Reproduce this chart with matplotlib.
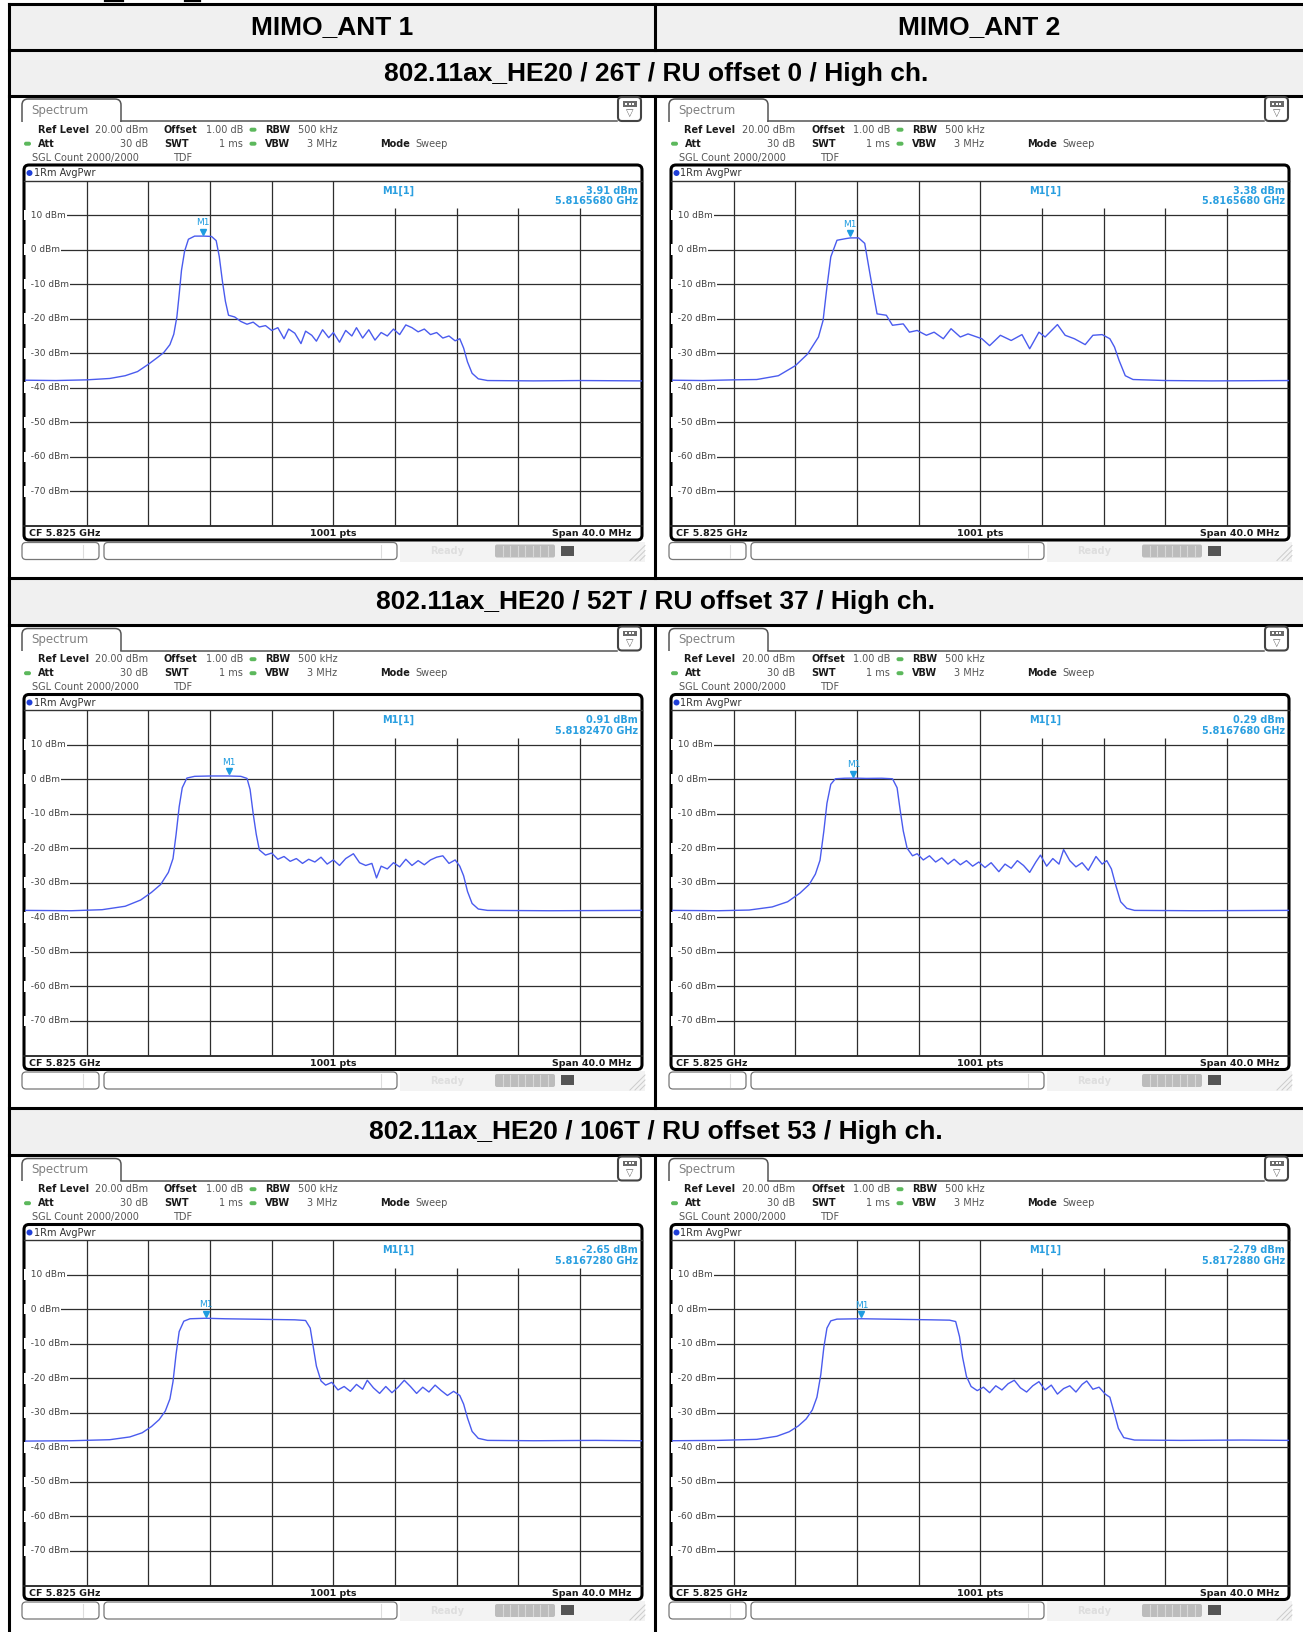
import matplotlib.pyplot as plt
from matplotlib.patches import FancyBboxPatch, Rectangle, Circle

W, H = 1303, 1632

col_titles = ["MIMO_ANT 1", "MIMO_ANT 2"]
row_titles = ["802.11ax_HE20 / 26T / RU offset 0 / High ch.",
              "802.11ax_HE20 / 52T / RU offset 37 / High ch.",
              "802.11ax_HE20 / 106T / RU offset 53 / High ch."]

# traces: frequency (MHz) and level (dBm)
a1_26t_f = [5805, 5807, 5809, 5810.5, 5811.5, 5812.3, 5813.0, 5813.6, 5814.0, 5814.4, 5814.65, 5814.85,
            5815.0, 5815.15, 5815.35, 5815.6, 5816.0, 5816.6, 5817.1, 5817.4, 5817.6, 5817.8, 5818.0,
            5818.2, 5818.6, 5819.0, 5819.4, 5819.8, 5820.2, 5820.6, 5821.0, 5821.4, 5821.8, 5822.1,
            5822.5, 5822.9, 5823.2, 5823.6, 5823.9, 5824.3, 5824.7, 5825.0, 5825.4, 5825.8, 5826.2,
            5826.5, 5826.9, 5827.3, 5827.7, 5828.1, 5828.5, 5828.9, 5829.3, 5829.7, 5830.1, 5830.5,
            5830.9, 5831.3, 5831.7, 5832.1, 5832.5, 5832.9, 5833.2, 5833.45, 5833.7, 5834.0, 5834.4,
            5835, 5838, 5841, 5845]
a1_26t_db = [-37.8, -37.9, -37.7, -37.3, -36.5, -35.3, -33.2, -31.2, -29.8, -27.5, -24.5, -19.5,
             -13.0, -6.0, -0.5, 3.0, 3.9, 3.91, 3.8, 2.6, -2.0, -9.0, -15.0,
             -19.0, -19.5, -20.8, -21.6, -21.0, -22.4, -22.0, -23.4, -22.6, -25.8, -23.0,
             -24.2, -27.2, -23.6, -24.8, -26.5, -23.2, -25.5, -24.0, -26.8, -23.4, -25.0,
             -22.6, -25.6, -23.2, -26.2, -24.0, -25.0, -23.0, -24.6, -21.8, -22.6, -23.8,
             -23.0, -24.6, -24.0, -25.6, -25.0, -26.4, -25.8, -28.5, -32.5, -35.8, -37.4,
             -37.9, -38.0, -37.9, -38.0]

a2_26t_f = [5805, 5807, 5809, 5810.5, 5811.9, 5813.0, 5813.8, 5814.5, 5814.8, 5815.05, 5815.3, 5815.7,
            5816.3, 5816.57, 5817.1, 5817.5, 5817.8, 5818.1, 5818.3, 5818.9, 5819.3, 5820.0, 5820.4,
            5820.9, 5821.5, 5822.0, 5822.6, 5823.1, 5823.7, 5824.2, 5825.1, 5825.6, 5826.3, 5827.0,
            5827.7, 5828.2, 5828.8, 5829.2, 5830.0, 5830.5, 5831.1, 5831.8, 5832.3, 5832.9, 5833.4,
            5833.7, 5834.0, 5834.4, 5834.9, 5837, 5840, 5845]
a2_26t_db = [-37.8, -37.9, -37.7, -37.6, -36.5, -33.6, -30.2, -25.3, -20.5, -10.8, -2.1, 2.7,
             3.2, 3.38, 3.4, 1.8, -6.0, -13.7, -18.6, -19.0, -21.9, -21.5, -23.9,
             -23.4, -24.8, -23.9, -25.8, -22.9, -25.3, -24.4, -25.8, -27.8, -24.8, -26.3,
             -24.6, -28.7, -23.9, -25.3, -21.7, -24.8, -25.8, -27.5, -24.8, -24.6, -25.8,
             -28.2, -32.1, -36.5, -37.6, -37.9, -38.0, -37.9]

a1_52t_f = [5805, 5808, 5810, 5811.5, 5812.5, 5813.2, 5813.8, 5814.3, 5814.6, 5814.8, 5815.0, 5815.2,
            5815.5, 5816.0, 5817.0, 5818.2, 5819.0, 5819.4, 5819.6, 5819.8, 5820.0, 5820.2, 5820.6,
            5821.0, 5821.4, 5821.8, 5822.2, 5822.6, 5823.0, 5823.4, 5823.8, 5824.2, 5824.6, 5825.0,
            5825.4, 5825.8, 5826.3, 5826.7, 5827.1, 5827.5, 5827.8, 5828.1, 5828.5, 5828.9, 5829.3,
            5829.7, 5830.1, 5830.5, 5830.9, 5831.3, 5831.7, 5832.1, 5832.5, 5832.9, 5833.2, 5833.45,
            5833.7, 5834.0, 5834.4, 5835, 5839, 5845]
a1_52t_db = [-38.0, -38.1, -37.8, -36.8, -35.0, -32.8, -30.5, -27.0, -23.0, -16.0, -8.0, -2.5,
             0.3, 0.8, 0.9, 0.91, 0.8, 0.2, -3.0, -10.0, -16.0, -20.5, -22.0,
             -21.4, -23.2, -22.4, -23.8, -23.0, -24.4, -23.2, -24.0, -22.6, -24.6, -23.4,
             -25.0, -23.0, -21.6, -24.2, -25.0, -24.4, -28.6, -25.2, -26.0, -24.2, -25.4,
             -23.2, -25.0, -23.6, -24.8, -23.4, -22.6, -22.2, -24.4, -23.4, -25.2, -28.0,
             -32.5, -36.0, -37.6, -38.0, -38.1, -38.0]

a2_52t_f = [5805, 5808, 5810, 5811.5, 5812.5, 5813.3, 5813.9, 5814.3, 5814.6, 5814.85, 5815.05, 5815.3,
            5815.6, 5816.2, 5816.8, 5817.6, 5818.6, 5819.3, 5819.6, 5819.8, 5820.0, 5820.25, 5820.6,
            5820.9, 5821.3, 5821.7, 5822.1, 5822.5, 5822.9, 5823.3, 5823.7, 5824.1, 5824.5, 5824.9,
            5825.3, 5825.7, 5826.2, 5826.6, 5827.0, 5827.4, 5827.8, 5828.2, 5828.6, 5828.9, 5829.3,
            5829.7, 5830.1, 5830.4, 5830.8, 5831.2, 5831.6, 5832.0, 5832.5, 5832.9, 5833.2, 5833.5,
            5833.8, 5834.1, 5834.5, 5835, 5839, 5845]
a2_52t_db = [-38.0, -38.1, -37.9, -37.0, -35.5, -33.0, -30.5, -27.5, -23.5, -15.0, -7.0, -1.5,
             0.1, 0.25, 0.29, 0.2, 0.25, 0.1, -2.5, -9.0, -15.0, -20.0, -22.2,
             -21.6, -23.4, -22.2, -24.0, -22.8, -24.6, -23.2, -24.8, -23.6, -25.2, -24.0,
             -25.6, -24.2, -26.8, -24.6, -25.8, -23.6, -25.0, -27.0, -24.0, -22.0, -25.2,
             -23.0, -24.6, -20.4, -23.6, -25.4, -24.2, -26.4, -22.4, -24.6, -23.6, -26.0,
             -31.0, -35.5, -37.4, -38.0, -38.1, -38.0]

a1_106t_f = [5805, 5808, 5810.5, 5811.8, 5812.6, 5813.2, 5813.7, 5814.1, 5814.4, 5814.6, 5814.8, 5815.0,
             5815.3, 5815.7, 5816.7, 5818, 5819.5, 5821, 5822.5, 5823.2, 5823.5, 5823.7, 5823.9,
             5824.2, 5824.5, 5824.9, 5825.3, 5825.7, 5826.1, 5826.5, 5826.9, 5827.2, 5827.6, 5828.0,
             5828.4, 5828.8, 5829.2, 5829.6, 5830.0, 5830.4, 5830.8, 5831.2, 5831.6, 5832.0, 5832.4,
             5832.8, 5833.2, 5833.45, 5833.7, 5834.0, 5834.4, 5835, 5838, 5842, 5845]
a1_106t_db = [-38.2, -38.1, -37.8, -37.0, -35.8, -34.0, -32.0, -29.5, -26.0, -21.0, -13.0, -6.5,
              -3.5, -2.8, -2.65, -2.8, -2.9, -3.0, -3.1, -3.3, -5.5, -11.0, -16.5,
              -20.8, -22.0, -21.2, -23.4, -22.4, -23.8, -21.8, -23.2, -20.6, -22.8, -24.4,
              -22.4, -24.2, -22.6, -20.6, -22.4, -24.4, -22.6, -24.0, -22.0, -23.6, -25.0,
              -23.8, -25.0, -27.5, -31.5, -35.4, -37.4, -38.0, -38.1, -38.0, -38.1]

a2_106t_f = [5805, 5808, 5810.5, 5811.8, 5812.6, 5813.2, 5813.7, 5814.1, 5814.4, 5814.65, 5814.85, 5815.05,
             5815.3, 5815.7, 5817.3, 5818.8, 5820.3, 5821.8, 5823.0, 5823.4, 5823.65, 5823.85, 5824.1,
             5824.4, 5824.8, 5825.2, 5825.6, 5826.0, 5826.4, 5826.8, 5827.2, 5827.6, 5828.0, 5828.4,
             5828.8, 5829.2, 5829.6, 5830.0, 5830.4, 5830.8, 5831.2, 5831.6, 5831.9, 5832.3, 5832.7,
             5833.1, 5833.4, 5833.65, 5833.95, 5834.3, 5835, 5838, 5842, 5845]
a2_106t_db = [-38.1, -38.0, -37.7, -36.8, -35.5, -33.8, -31.8, -29.2, -25.5, -19.0, -11.0, -5.5,
              -3.4, -2.9, -2.79, -2.9, -3.0, -3.1, -3.2, -3.6, -8.0, -14.0, -19.5,
              -22.4, -23.6, -22.6, -24.2, -22.2, -23.4, -21.6, -20.6, -22.8, -24.0, -22.2,
              -21.0, -23.4, -22.0, -24.6, -23.0, -22.2, -24.0, -21.8, -20.8, -23.2, -22.6,
              -24.6, -25.5, -29.5, -34.5, -37.2, -37.9, -38.0, -37.9, -38.0]

# marker M1 per panel (ANT1 26T, ANT2 26T, ANT1 52T, ANT2 52T, ANT1 106T, ANT2 106T)
mk_freq = [5816.568, 5816.568, 5818.247, 5816.768, 5816.728, 5817.288]
mk_level = [3.91, 3.38, 0.91, 0.29, -2.65, -2.79]
mk_ghz = ["5.8165680 GHz", "5.8165680 GHz", "5.8182470 GHz", "5.8167680 GHz", "5.8167280 GHz", "5.8172880 GHz"]

traces = [(a1_26t_f, a1_26t_db), (a2_26t_f, a2_26t_db),
          (a1_52t_f, a1_52t_db), (a2_52t_f, a2_52t_db),
          (a1_106t_f, a1_106t_db), (a2_106t_f, a2_106t_db)]

grid_freqs = [5809, 5813, 5817, 5821, 5825, 5829, 5833, 5837, 5841]
grid_levels = [10, 0, -10, -20, -30, -40, -50, -60, -70]

TRACE = '#4a5bee'
MK = '#1e9ce0'
GRID = '#2e2e2e'

fig = plt.figure(figsize=(W / 100, H / 100), dpi=100)
bg = fig.add_axes([0, 0, 1, 1])
bg.set_xlim(0, W)
bg.set_ylim(H, 0)
bg.axis('off')

# ---- table ----
row_tops = [95.5, 625, 1155]
title_bands = [(4, 49.5), (49.5, 95.5), (578, 625), (1108, 1155)]
for y0, y1 in title_bands:
    bg.add_patch(Rectangle((9, y0), W - 9, y1 - y0, fc='#f0f0f0', ec='none', zorder=0))
for y in [4, 49.5, 95.5, 578, 625, 1108, 1155]:
    bg.plot([9, W], [y, y], color='black', lw=2.2, zorder=1)
bg.plot([9, 9], [4, H], color='black', lw=2.2, zorder=1)
for y0, y1 in [(4, 49.5), (95.5, 578), (625, 1108), (1155, H)]:
    bg.plot([655, 655], [y0, y1], color='black', lw=2.2, zorder=1)

# cut-off caption above the table
bg.plot([105, 123], [1, 1], color='black', lw=1.6)
bg.plot([185, 200], [1, 1], color='black', lw=1.6)

hfont = dict(family='Liberation Sans', weight='bold', size=19, ha='center', va='center')
bg.text(332, 27, col_titles[0], **hfont)
bg.text(979, 27, col_titles[1], **hfont)
for (y0, y1), t in zip(title_bands[1:], row_titles):
    bg.text(656, (y0 + y1) / 2 + 1, t, **hfont)


def draw_panel(ox, oy, freq, dbm, mf, ml, mghz):
    def X(x):
        return ox + x

    def Y(y):
        return oy + y

    # Spectrum tab
    bg.add_patch(FancyBboxPatch((X(22), Y(3.5)), 99, 28, boxstyle='round,pad=0,rounding_size=6',
                                fc='white', ec='#555555', lw=1.1, zorder=2))
    bg.add_patch(Rectangle((X(19), Y(26.4)), 106, 8, fc='white', ec='none', zorder=3))
    bg.plot([X(121), X(617)], [Y(25.5), Y(25.5)], color='#555555', lw=1.1, zorder=3)
    bg.text(X(31), Y(15), 'Spectrum', fontsize=8.5, color='#808080', va='center', zorder=4)

    # icon top right
    bg.add_patch(FancyBboxPatch((X(618), Y(1.5)), 23, 24, boxstyle='round,pad=0,rounding_size=4',
                                fc='white', ec='#444444', lw=1.5, zorder=3))
    bg.add_patch(Rectangle((X(622.5), Y(5.5)), 14, 5.5, fc='#6a6a6a', ec='none', zorder=4))
    for dx in [3.5, 7, 10.5]:
        bg.add_patch(Rectangle((X(622.5 + dx - 1), Y(7.3)), 2, 2, fc='white', ec='none', zorder=5))
    bg.text(X(629.5), Y(17.5), '\u25bd', fontsize=7, color='#666666', ha='center', va='center', zorder=4)

    # parameter lines
    B = dict(fontsize=7, weight='bold', color='#1a1a1a', va='center')
    R = dict(fontsize=7, color='#555555', va='center')
    r1, r2, r3 = Y(34.2), Y(48.2), Y(62.2)
    bg.text(X(37.5), r1, 'Ref Level', **B)
    bg.text(X(148), r1, '20.00 dBm', ha='right', **R)
    bg.text(X(164), r1, 'Offset', **B)
    bg.text(X(243), r1, '1.00 dB', ha='right', **R)
    bg.text(X(265), r1, 'RBW', **B)
    bg.text(X(298), r1, '500 kHz', **R)
    bg.text(X(37.5), r2, 'Att', **B)
    bg.text(X(148), r2, '30 dB', ha='right', **R)
    bg.text(X(164), r2, 'SWT', **B)
    bg.text(X(243), r2, '1 ms', ha='right', **R)
    bg.text(X(265), r2, 'VBW', **B)
    bg.text(X(337), r2, '3 MHz', ha='right', **R)
    bg.text(X(380), r2, 'Mode', **B)
    bg.text(X(415), r2, 'Sweep', **R)
    bg.text(X(32), r3, 'SGL Count 2000/2000', **R)
    bg.text(X(173), r3, 'TDF', **R)
    for (cx, cy) in [(X(253), r1), (X(27.5), r2), (X(253), r2)]:
        bg.add_patch(FancyBboxPatch((cx - 3.5, cy - 2), 7, 4, boxstyle='round,pad=0,rounding_size=2',
                                    fc='#5cb85c', ec='none', zorder=4))

    # graph frame
    bg.add_patch(FancyBboxPatch((X(24), Y(69.5)), 618, 375, boxstyle='round,pad=0,rounding_size=5',
                                fc='white', ec='black', lw=2.2, zorder=2))
    bg.plot([X(24), X(642)], [Y(85), Y(85)], color='#333333', lw=1.0, zorder=3)
    bg.plot([X(24), X(642)], [Y(430.5), Y(430.5)], color='#222222', lw=1.3, zorder=3)
    bg.add_patch(Circle((X(29.5), Y(77.5)), 3, fc='#1f3fd8', ec='none', zorder=4))
    bg.text(X(33.5), Y(77.5), '1Rm AvgPwr', fontsize=7, color='#333333', va='center', zorder=4)
    S = dict(fontsize=6.8, weight='bold', color='#1a1a1a', va='center', zorder=4)
    bg.text(X(29), Y(438), 'CF 5.825 GHz', **S)
    bg.text(X(333), Y(438), '1001 pts', ha='center', **S)
    bg.text(X(632), Y(438), 'Span 40.0 MHz', ha='right', **S)

    # marker readout
    M = dict(fontsize=7, weight='bold', color='#2a9fe0', va='center', zorder=4)
    bg.text(X(382), Y(95), 'M1[1]', **M)
    bg.text(X(638), Y(95), f'{ml:.2f} dBm', ha='right', **M)
    bg.text(X(638), Y(106), mghz, ha='right', **M)

    # status bar under the frame
    bg.add_patch(Rectangle((X(400), Y(446)), 245, 20, fc='#f3f3f3', ec='none', zorder=1))
    bg.add_patch(FancyBboxPatch((X(22), Y(447)), 77, 17, boxstyle='round,pad=0,rounding_size=4',
                                fc='white', ec='#777777', lw=0.9, zorder=2))
    bg.add_patch(FancyBboxPatch((X(104), Y(447)), 293, 17, boxstyle='round,pad=0,rounding_size=4',
                                fc='white', ec='#777777', lw=0.9, zorder=2))
    bg.plot([X(82.5), X(82.5)], [Y(449), Y(462)], color='#dddddd', lw=0.8, zorder=3)
    bg.plot([X(381), X(381)], [Y(449), Y(462)], color='#dddddd', lw=0.8, zorder=3)
    bg.text(X(447), Y(455.5), 'Ready', fontsize=7, weight='bold', color='#dedede', ha='center',
            va='center', zorder=3)
    bg.add_patch(FancyBboxPatch((X(495), Y(449)), 60, 13, boxstyle='round,pad=0,rounding_size=2',
                                fc='#bcbcbc', ec='none', zorder=2))
    for k in range(1, 8):
        bg.plot([X(495 + 7.5 * k), X(495 + 7.5 * k)], [Y(450), Y(461)], color='#d8d8d8', lw=0.8, zorder=3)
    bg.add_patch(Rectangle((X(561), Y(450)), 13, 10, fc='#555555', ec='none', zorder=3))
    for d in [0, 5, 10]:
        bg.plot([X(630 + d), X(645)], [Y(465), Y(450 + d)], color='#cccccc', lw=0.7, zorder=3)

    # graph itself, in instrument units
    ax = fig.add_axes([X(25) / W, 1 - Y(430.5) / H, 616.7 / W, 345.5 / H])
    ax.set_xlim(5805, 5845)
    ax.set_ylim(-80, 20)
    ax.axis('off')
    for f in grid_freqs:
        top = 20 if f < 5827 else 12
        ax.vlines(f, -80, top, color=GRID, lw=0.9, zorder=1)
    for lv in grid_levels:
        ax.hlines(lv, 5805, 5845, color=GRID, lw=0.9, zorder=1)
        ax.text(5805.0, lv, f'  {lv} dBm', fontsize=6.5, color='#444444', va='center', ha='left',
                zorder=2, bbox=dict(fc='white', ec='none', pad=0.6))
    ax.plot(freq, dbm, color=TRACE, lw=1.0, zorder=3)
    ax.plot([mf], [ml + 1.3], marker='v', ms=5, color=MK, ls='none', zorder=4)
    ax.text(mf, ml + 3.9, 'M1', fontsize=6.5, color=MK, ha='center', va='center', zorder=4)


k = 0
for oy in row_tops:
    for ox in [0, 647]:
        fr, db = traces[k]
        draw_panel(ox, oy, fr, db, mk_freq[k], mk_level[k], mk_ghz[k])
        k += 1

fig.savefig('out.png', dpi=100)
